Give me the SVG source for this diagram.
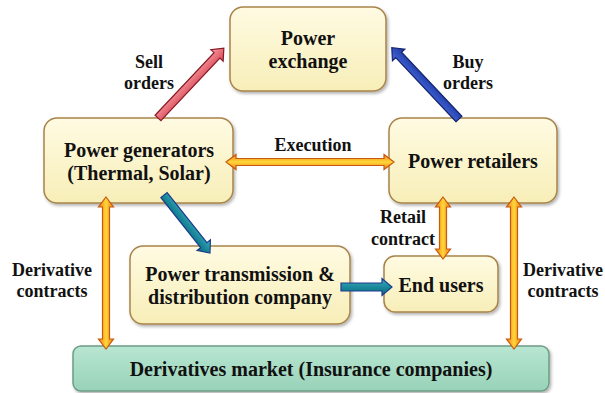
<svg xmlns="http://www.w3.org/2000/svg" width="605" height="393" viewBox="0 0 605 393">
  <defs>
    <linearGradient id="boxFill" x1="0" y1="0" x2="0" y2="1">
      <stop offset="0" stop-color="#fffbe2"/>
      <stop offset="1" stop-color="#f7eeb8"/>
    </linearGradient>
    <linearGradient id="mktFill" x1="0" y1="0" x2="0" y2="1">
      <stop offset="0" stop-color="#b8e6d2"/>
      <stop offset="1" stop-color="#98d2b8"/>
    </linearGradient>
    <linearGradient id="orangeFill" x1="0" y1="0" x2="0" y2="1">
      <stop offset="0" stop-color="#f07818"/>
      <stop offset="0.5" stop-color="#ffd838"/>
      <stop offset="1" stop-color="#f07818"/>
    </linearGradient>
    <linearGradient id="redFill" x1="0" y1="0" x2="0" y2="1">
      <stop offset="0" stop-color="#f3a0a6"/>
      <stop offset="0.5" stop-color="#e8707a"/>
      <stop offset="1" stop-color="#d04858"/>
    </linearGradient>
    <linearGradient id="blueFill" x1="0" y1="0" x2="0" y2="1">
      <stop offset="0" stop-color="#4a6ad8"/>
      <stop offset="0.5" stop-color="#3050c0"/>
      <stop offset="1" stop-color="#1c3498"/>
    </linearGradient>
    <linearGradient id="tealFill" x1="0" y1="0" x2="0" y2="1">
      <stop offset="0" stop-color="#40b0c0"/>
      <stop offset="0.5" stop-color="#1a8a9c"/>
      <stop offset="1" stop-color="#0e6a80"/>
    </linearGradient>
    <filter id="shadow" x="-10%" y="-10%" width="125%" height="130%">
      <feDropShadow dx="1.5" dy="2" stdDeviation="1.5" flood-color="#000" flood-opacity="0.3"/>
    </filter>
  </defs>
  <style>
    .box { fill: url(#boxFill); stroke: #a8844a; stroke-width: 1.5; filter: url(#shadow); }
    .mkt { fill: url(#mktFill); stroke: #6e9c86; stroke-width: 1.5; filter: url(#shadow); }
    text { font-family: "Liberation Serif", "Times New Roman", serif; font-weight: bold; fill: #111; text-anchor: middle; }
    .t { font-size: 20px; }
    .l { font-size: 18px; }
    .dbl { fill: url(#orangeFill); stroke: #c85a10; stroke-width: 1.2; stroke-linejoin: miter; }
    .red { fill: url(#redFill); stroke: #8a1a24; stroke-width: 1.2; }
    .blue { fill: url(#blueFill); stroke: #14246e; stroke-width: 1.2; }
    .teal { fill: url(#tealFill); stroke: #1c3a8a; stroke-width: 1.2; }
  </style>

  <g id="power-exchange">
    <rect class="box" x="230" y="7" width="156" height="84" rx="13"/>
    <text class="t" x="308" y="45">Power</text>
    <text class="t" x="308" y="68">exchange</text>
  </g>

  <g id="power-generators">
    <rect class="box" x="44" y="118" width="189" height="85" rx="13"/>
    <text class="t" x="139" y="157">Power generators</text>
    <text class="t" x="139" y="180">(Thermal, Solar)</text>
  </g>

  <g id="power-retailers">
    <rect class="box" x="389" y="118" width="168" height="85" rx="13"/>
    <text class="t" x="473" y="168">Power retailers</text>
  </g>

  <g id="transmission-company">
    <rect class="box" x="130" y="246" width="220" height="78" rx="13"/>
    <text class="t" x="240" y="281">Power transmission &amp;</text>
    <text class="t" x="240" y="304">distribution company</text>
  </g>

  <g id="end-users">
    <rect class="box" x="384" y="256" width="114" height="56" rx="11"/>
    <text class="t" x="441" y="292">End users</text>
  </g>

  <g id="derivatives-market">
    <rect class="mkt" x="73" y="346" width="476" height="45" rx="8"/>
    <text class="t" x="311" y="376">Derivatives market (Insurance companies)</text>
  </g>

  <g id="connectors">
    <!-- sell orders: generators to exchange -->
    <path class="red" transform="translate(158,118) rotate(-46.7)" d="M0,-4 L86,-4 L86,-8.5 L96,0 L86,8.5 L86,4 L0,4 Z"/>
    <!-- buy orders: retailers to exchange -->
    <path class="blue" transform="translate(459,119) rotate(-133.3)" d="M0,-4 L88,-4 L88,-8.5 L98,0 L88,8.5 L88,4 L0,4 Z"/>
    <!-- generators to transmission company -->
    <path class="teal" transform="translate(164,195) rotate(51.6)" d="M0,-4 L64,-4 L64,-8.5 L74,0 L64,8.5 L64,4 L0,4 Z"/>
    <!-- transmission company to end users -->
    <path class="teal" transform="translate(341,287)" d="M0,-4 L41,-4 L41,-8.5 L51,0 L41,8.5 L41,4 L0,4 Z"/>
    <!-- execution -->
    <path class="dbl" transform="translate(226,162)" d="M0,0 L10,-7.5 L10,-3.5 L158,-3.5 L158,-7.5 L168,0 L158,7.5 L158,3.5 L10,3.5 L10,7.5 Z"/>
    <!-- derivative contracts, left -->
    <path class="dbl" transform="translate(106,197) rotate(90)" d="M0,0 L10,-7.5 L10,-3.5 L142,-3.5 L142,-7.5 L152,0 L142,7.5 L142,3.5 L10,3.5 L10,7.5 Z"/>
    <!-- retail contract -->
    <path class="dbl" transform="translate(443,197) rotate(90)" d="M0,0 L10,-7.5 L10,-3.5 L52,-3.5 L52,-7.5 L62,0 L52,7.5 L52,3.5 L10,3.5 L10,7.5 Z"/>
    <!-- derivative contracts, right -->
    <path class="dbl" transform="translate(514,197) rotate(90)" d="M0,0 L10,-7.5 L10,-3.5 L142,-3.5 L142,-7.5 L152,0 L142,7.5 L142,3.5 L10,3.5 L10,7.5 Z"/>

    <text class="l" x="149" y="68">Sell</text>
    <text class="l" x="149" y="89">orders</text>
    <text class="l" x="468" y="68">Buy</text>
    <text class="l" x="468" y="89">orders</text>
    <text class="l" x="313" y="151">Execution</text>
    <text class="l" x="52" y="276">Derivative</text>
    <text class="l" x="52" y="297">contracts</text>
    <text class="l" x="403" y="223">Retail</text>
    <text class="l" x="403" y="245">contract</text>
    <text class="l" x="563" y="276">Derivative</text>
    <text class="l" x="563" y="297">contracts</text>
  </g>
</svg>
